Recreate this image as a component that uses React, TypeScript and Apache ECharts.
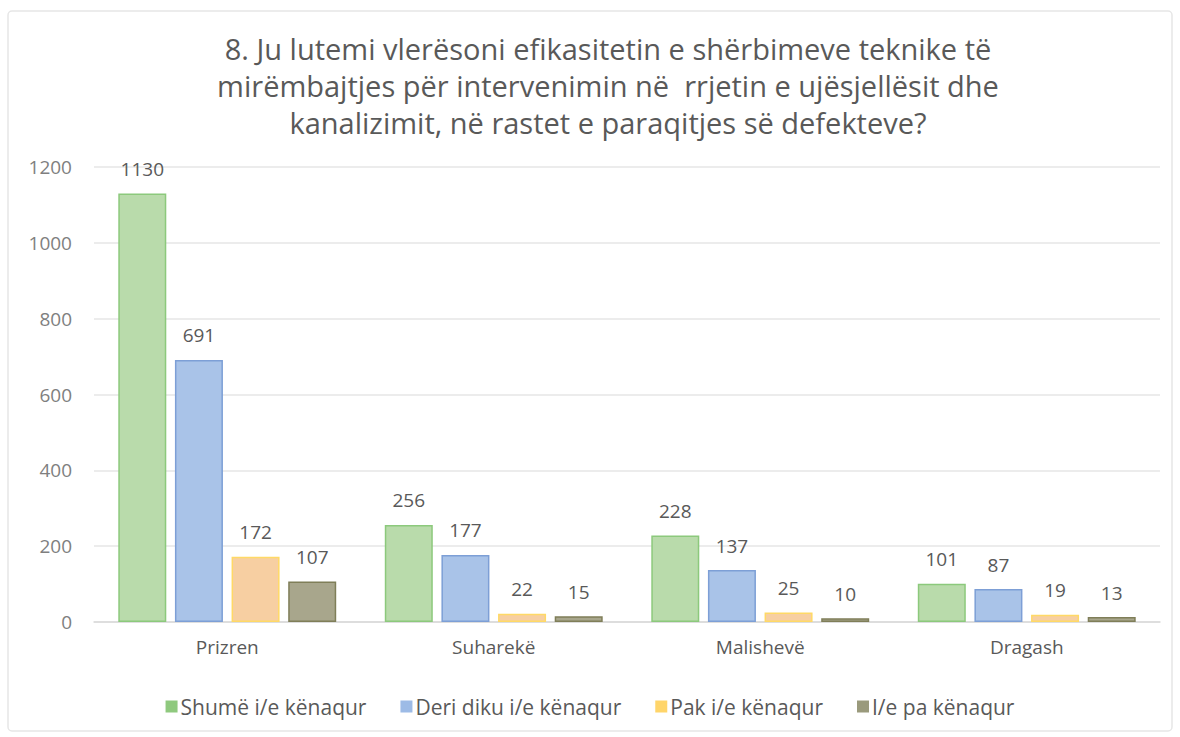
import React, { useEffect, useRef } from "react";
import * as echarts from "echarts";

const categories = ["Prizren", "Suharekë", "Malishevë", "Dragash"];
const seriesNames = ["Shumë i/e kënaqur", "Deri diku i/e kënaqur", "Pak i/e kënaqur", "I/e pa kënaqur"];
const shume = [1130, 256, 228, 101];
const deriDiku = [691, 177, 137, 87];
const pak = [172, 22, 25, 19];
const paKenaqur = [107, 15, 10, 13];
const yTicks = [0, 200, 400, 600, 800, 1000, 1200];

const fills = ["#b9dbab", "#a9c3e8", "#f7cfa2", "#a8a68c"];
const borders = ["#8cc97c", "#7d9fd6", "#ffd966", "#7f7e58"];
const legendColors = ["#8fc97e", "#9dbbe6", "#ffd56a", "#9a9a7c"];

const titleText =
  "8. Ju lutemi vlerësoni efikasitetin e shërbimeve teknike të\nmirëmbajtjes për intervenimin në  rrjetin e ujësjellësit dhe\nkanalizimit, në rastet e paraqitjes së defekteve?";

export default function App() {
  const ref = useRef<HTMLDivElement>(null);
  useEffect(() => {
    if (!ref.current) return;
    const chart = echarts.init(ref.current, null, { renderer: "svg" });
    const data = [shume, deriDiku, pak, paKenaqur];
    chart.setOption({
      animation: false,
      backgroundColor: "#ffffff",
      textStyle: { fontFamily: "Open Sans" },
      title: {
        text: titleText,
        left: 603,
        textAlign: "center",
        top: 25,
        textStyle: {
          fontFamily: "Open Sans",
          fontSize: 29,
          fontWeight: "normal",
          color: "#595959",
          lineHeight: 37,
        },
      },
      graphic: [
        {
          type: "rect",
          shape: { x: 8, y: 11, width: 1164, height: 720, r: 4 },
          style: { fill: "none", stroke: "#e6e6e6", lineWidth: 1.5 },
          silent: true,
        },
      ],
      legend: {
        top: 691,
        left: "center",
        width: 1100,
        itemWidth: 12,
        itemHeight: 12,
        itemGap: 34,
        icon: "rect",
        textStyle: { fontSize: 21, color: "#595959", fontFamily: "Open Sans", padding: [0, 0, 0, -2] },
        data: seriesNames.map((n, i) => ({ name: n, itemStyle: { color: legendColors[i], borderWidth: 0 } })),
      },
      grid: { left: 94, right: 20, top: 167, bottom: 115, containLabel: false },
      xAxis: {
        type: "category",
        data: categories,
        axisLine: { lineStyle: { color: "#d9d9d9", width: 1.5 } },
        axisTick: { show: false },
        axisLabel: { fontSize: 19, color: "#595959", margin: 15 },
      },
      yAxis: {
        type: "value",
        min: yTicks[0],
        max: yTicks[yTicks.length - 1],
        interval: 200,
        axisLine: { show: false },
        axisTick: { show: false },
        axisLabel: { fontSize: 19, color: "#7f7f7f", margin: 22, formatter: (v: number) => String(v) },
        splitLine: { lineStyle: { color: "#e6e6e6", width: 1.5 } },
      },
      series: seriesNames.map((name, i) => ({
        name,
        type: "bar",
        data: data[i],
        barWidth: 48,
        barGap: "18%",
        barCategoryGap: "16%",
        itemStyle: { color: fills[i], borderColor: borders[i], borderWidth: 1.5 },
        label: {
          show: true,
          position: "top",
          distance: 15,
          fontSize: 19,
          color: "#595959",
        },
      })),
    });
    return () => chart.dispose();
  }, []);
  return (
    <div
      ref={ref}
      style={{ position: "fixed", left: 0, top: 0, width: 1180, height: 737 }}
    />
  );
}
